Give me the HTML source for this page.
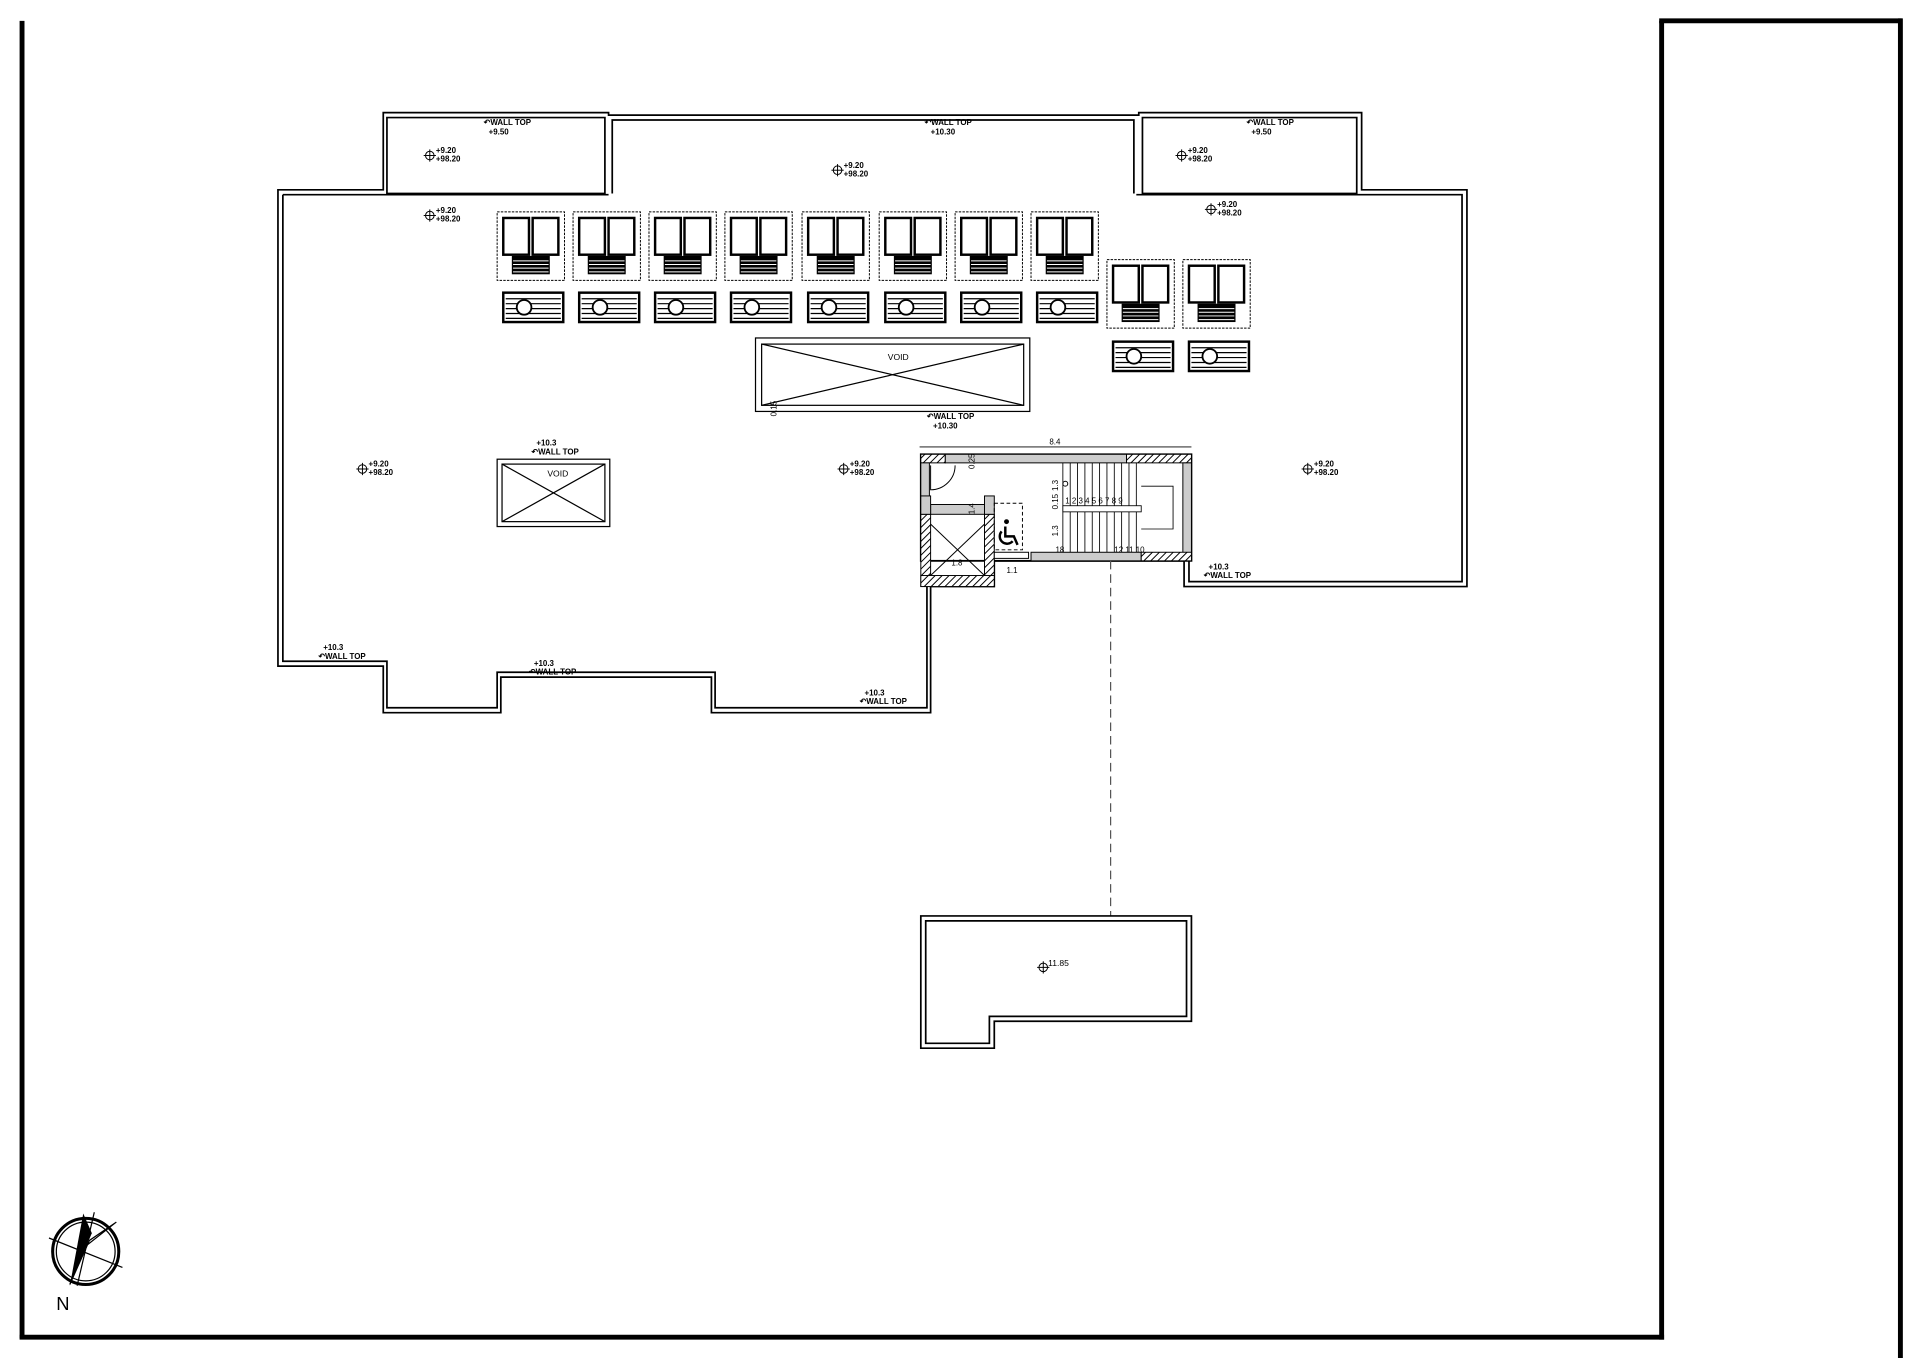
<!DOCTYPE html>
<html><head><meta charset="utf-8"><style>
html,body{margin:0;padding:0;background:#fff;width:1920px;height:1358px;overflow:hidden}
svg{display:block}
text{font-family:"Liberation Sans",sans-serif;fill:#000}
</style></head><body>
<svg width="1920" height="1358" viewBox="0 0 1568 1109" preserveAspectRatio="none" xmlns="http://www.w3.org/2000/svg">
<defs>
<pattern id="hat" width="4" height="4" patternUnits="userSpaceOnUse" patternTransform="rotate(45)"><rect width="4" height="4" fill="#fff"/><line x1="0" y1="0" x2="0" y2="4" stroke="#000" stroke-width="1.6"/></pattern>
<g id="unit">
<rect x="0" y="0" width="55" height="56" fill="none" stroke="#000" stroke-width="0.8" stroke-dasharray="2 1"/>
<rect x="5" y="5" width="21" height="30" fill="#fff" stroke="#000" stroke-width="2"/>
<rect x="29" y="5" width="21" height="30" fill="#fff" stroke="#000" stroke-width="2"/>
<rect x="12" y="36" width="31" height="15" fill="#000"/>
<line x1="13" y1="40" x2="42" y2="40" stroke="#fff" stroke-width="0.8"/>
<line x1="13" y1="43" x2="42" y2="43" stroke="#fff" stroke-width="0.8"/>
<line x1="13" y1="46" x2="42" y2="46" stroke="#fff" stroke-width="0.8"/>
<line x1="13" y1="49" x2="42" y2="49" stroke="#fff" stroke-width="0.8"/>
</g>
<g id="row">
<rect x="0" y="0" width="49" height="24" fill="#fff" stroke="#000" stroke-width="2"/>
<line x1="2" y1="5" x2="47" y2="5" stroke="#000" stroke-width="1"/>
<line x1="2" y1="9" x2="47" y2="9" stroke="#000" stroke-width="1"/>
<line x1="2" y1="13" x2="47" y2="13" stroke="#000" stroke-width="1"/>
<line x1="2" y1="17" x2="47" y2="17" stroke="#000" stroke-width="1"/>
<line x1="2" y1="21" x2="47" y2="21" stroke="#000" stroke-width="1"/>
<circle cx="17" cy="12" r="6" fill="#fff" stroke="#000" stroke-width="1.5"/>
</g>
<g id="lv">
<circle cx="0" cy="0" r="3.5" fill="none" stroke="#000" stroke-width="0.8"/>
<line x1="-5" y1="0" x2="5" y2="0" stroke="#000" stroke-width="0.8"/>
<line x1="0" y1="-5" x2="0" y2="5" stroke="#000" stroke-width="0.8"/>
</g>
</defs>
<!-- frame -->
<g stroke="#000" stroke-width="4" fill="none">
<line x1="18" y1="17" x2="18" y2="1093"/>
<line x1="16" y1="1092" x2="1359" y2="1092"/>
<line x1="1357" y1="17" x2="1357" y2="1094"/>
<line x1="1355" y1="17" x2="1553" y2="17"/>
<line x1="1552" y1="15" x2="1552" y2="1109"/>
</g>
<!-- building outline -->
<g fill="none" stroke="#000" stroke-width="1.4">
<path d="M227,155 L313,155 L313,92 L497,92 L497,94 L930,94 L930,92 L1112,92 L1112,155 L1198,155 L1198,479 L967,479 L967,458 L812,458 L812,479 L760,479 L760,582 L581,582 L581,553 L409,553 L409,582 L313,582 L313,544 L227,544 Z"/>
<path d="M316,96 L494,96 L494,158 L316,158 Z M500,158 L500,98 L926,98 L926,158 M933,96 L1108,96 L1108,158 L933,158 Z"/>
<path d="M231,159 L497,159 M928,159 L1194,159 L1194,475 L971,475 L971,458 M757,479 L757,578 L584,578 L584,549 L406,549 L406,578 L316,578 L316,540 L231,540 L231,159"/>
</g>
<!-- units -->
<use href="#unit" x="406" y="173"/><use href="#unit" x="468" y="173"/><use href="#unit" x="530" y="173"/><use href="#unit" x="592" y="173"/>
<use href="#unit" x="655" y="173"/><use href="#unit" x="718" y="173"/><use href="#unit" x="780" y="173"/><use href="#unit" x="842" y="173"/>
<use href="#unit" x="904" y="212"/><use href="#unit" x="966" y="212"/>
<use href="#row" x="411" y="239"/><use href="#row" x="473" y="239"/><use href="#row" x="535" y="239"/><use href="#row" x="597" y="239"/>
<use href="#row" x="660" y="239"/><use href="#row" x="723" y="239"/><use href="#row" x="785" y="239"/><use href="#row" x="847" y="239"/>
<use href="#row" x="909" y="279"/><use href="#row" x="971" y="279"/>
<!-- voids -->
<g fill="none" stroke="#000" stroke-width="1">
<rect x="617" y="276" width="224" height="60"/><rect x="622" y="281" width="214" height="50"/>
<line x1="622" y1="281" x2="836" y2="331"/><line x1="836" y1="281" x2="622" y2="331"/>
<rect x="406" y="375" width="92" height="55"/><rect x="410" y="379" width="84" height="47"/>
<line x1="410" y1="379" x2="494" y2="426"/><line x1="494" y1="379" x2="410" y2="426"/>
</g>
<text x="725" y="294" font-size="7">VOID</text>
<text x="447" y="389" font-size="7">VOID</text>
<!-- stair core -->
<g stroke="#000">
<rect x="752" y="371" width="221" height="87" fill="#fff" stroke-width="1.5"/>
<rect x="752" y="371" width="20" height="7" fill="url(#hat)" stroke-width="0.8"/>
<rect x="772" y="371" width="148" height="7" fill="#ccc" stroke-width="0.8"/>
<rect x="920" y="371" width="53" height="7" fill="url(#hat)" stroke-width="0.8"/>
<rect x="966" y="378" width="7" height="80" fill="#ccc" stroke-width="0.8"/>
<rect x="752" y="378" width="7" height="42" fill="#ccc" stroke-width="0.8"/>
<rect x="752" y="420" width="8" height="59" fill="url(#hat)" stroke-width="0.8"/>
<rect x="804" y="420" width="8" height="59" fill="url(#hat)" stroke-width="0.8"/>
<rect x="752" y="470" width="60" height="9" fill="url(#hat)" stroke-width="0.8"/>
<rect x="760" y="412" width="44" height="8" fill="#ccc" stroke-width="0.8"/>
<rect x="752" y="405" width="8" height="15" fill="#ccc" stroke-width="0.8"/>
<rect x="804" y="405" width="8" height="15" fill="#ccc" stroke-width="0.8"/>
<rect x="842" y="451" width="90" height="7" fill="#ccc" stroke-width="0.8"/>
<rect x="932" y="451" width="41" height="7" fill="url(#hat)" stroke-width="0.8"/>
<rect x="812" y="451" width="28" height="5" fill="#fff" stroke-width="0.8"/>
<line x1="760" y1="428" x2="804" y2="470" stroke-width="0.8"/><line x1="804" y1="428" x2="760" y2="470" stroke-width="0.8"/>
<path d="M760,380 L760,400 A20,20 0 0 0 780,380" fill="none" stroke-width="0.8"/>
<rect x="812" y="411" width="23" height="38" fill="none" stroke-width="0.8" stroke-dasharray="3 2"/>
<g stroke-width="0.7">
<line x1="868" y1="378" x2="868" y2="451"/>
<line x1="874" y1="378" x2="874" y2="451"/><line x1="880" y1="378" x2="880" y2="451"/><line x1="886" y1="378" x2="886" y2="451"/><line x1="892" y1="378" x2="892" y2="451"/><line x1="898" y1="378" x2="898" y2="451"/><line x1="904" y1="378" x2="904" y2="451"/><line x1="910" y1="378" x2="910" y2="451"/><line x1="916" y1="378" x2="916" y2="451"/><line x1="922" y1="378" x2="922" y2="451"/><line x1="928" y1="378" x2="928" y2="451"/>
<rect x="868" y="413" width="64" height="5" fill="#fff"/>
<path d="M932,397 L958,397 L958,432 L932,432" fill="none"/>
<line x1="751" y1="365" x2="973" y2="365"/>
</g>
<circle cx="870" cy="395" r="2" fill="none" stroke-width="0.8"/>
</g>
<!-- wheelchair symbol -->
<g stroke="#000" fill="none" stroke-width="2">
<circle cx="822" cy="426" r="2" fill="#000" stroke="none"/>
<path d="M821,430 L821,438 L828,438 L831,445"/>
<path d="M818,434 A6,6 0 1 0 827,442"/>
</g>
<g font-size="6.5">
<text x="857" y="363">8.4</text>
<text x="870" y="411">1 2 3 4 5 6 7 8 9</text>
<text x="862" y="451">18</text><text x="910" y="451">12 11 10</text>
<text x="777" y="462">1.8</text><text x="822" y="468">1.1</text>
<text transform="translate(864,401) rotate(-90)">1.3</text>
<text transform="translate(864,416) rotate(-90)">0.15</text>
<text transform="translate(864,438) rotate(-90)">1.3</text>
<text transform="translate(796,383) rotate(-90)">0.25</text>
<text transform="translate(796,420) rotate(-90)">1.4</text>
<text transform="translate(634,340) rotate(-90)">0.15</text>
</g>
<!-- dashed -->
<line x1="907" y1="458" x2="907" y2="748" stroke="#555" stroke-width="1" stroke-dasharray="7 4"/>
<!-- lower box -->
<g fill="none" stroke="#000" stroke-width="1.4">
<path d="M752,748 L973,748 L973,834 L812,834 L812,856 L752,856 Z"/>
<path d="M756,752 L969,752 L969,830 L808,830 L808,852 L756,852 Z"/>
</g>
<use href="#lv" x="852" y="790"/><text x="856" y="789" font-size="7">11.85</text>
<!-- level labels -->
<g font-size="6.5" font-weight="bold">
<use href="#lv" x="351" y="127"/><text x="356" y="125">+9.20</text><text x="356" y="132">+98.20</text>
<use href="#lv" x="684" y="139"/><text x="689" y="137">+9.20</text><text x="689" y="144">+98.20</text>
<use href="#lv" x="965" y="127"/><text x="970" y="125">+9.20</text><text x="970" y="132">+98.20</text>
<use href="#lv" x="351" y="176"/><text x="356" y="174">+9.20</text><text x="356" y="181">+98.20</text>
<use href="#lv" x="989" y="171"/><text x="994" y="169">+9.20</text><text x="994" y="176">+98.20</text>
<use href="#lv" x="296" y="383"/><text x="301" y="381">+9.20</text><text x="301" y="388">+98.20</text>
<use href="#lv" x="689" y="383"/><text x="694" y="381">+9.20</text><text x="694" y="388">+98.20</text>
<use href="#lv" x="1068" y="383"/><text x="1073" y="381">+9.20</text><text x="1073" y="388">+98.20</text>
<text x="395" y="102">↶WALL TOP</text><text x="399" y="110">+9.50</text>
<text x="755" y="102">↶WALL TOP</text><text x="760" y="110">+10.30</text>
<text x="1018" y="102">↶WALL TOP</text><text x="1022" y="110">+9.50</text>
<text x="757" y="342">↶WALL TOP</text><text x="762" y="350">+10.30</text>
<text x="438" y="364">+10.3</text><text x="434" y="371">↶WALL TOP</text>
<text x="987" y="465">+10.3</text><text x="983" y="472">↶WALL TOP</text>
<text x="264" y="531">+10.3</text><text x="260" y="538">↶WALL TOP</text>
<text x="436" y="544">+10.3</text><text x="432" y="551">↶WALL TOP</text>
<text x="706" y="568">+10.3</text><text x="702" y="575">↶WALL TOP</text>
</g>
<!-- compass -->
<g stroke="#000" fill="none">
<circle cx="70" cy="1022" r="27" stroke-width="2.5"/>
<circle cx="70" cy="1022" r="24" stroke-width="1"/>
<line x1="40" y1="1011" x2="100" y2="1035" stroke-width="1"/>
<line x1="77" y1="990" x2="63" y2="1050" stroke-width="1"/>
<path d="M95,998 L73,1013 L57,1049 L67,1020 Z" stroke-width="1" fill="#fff"/>
</g>
<path d="M68,991 L75,1007 L57,1050 Z" fill="#000"/>
<text x="46" y="1070" font-size="15">N</text>
</svg>
</body></html>
